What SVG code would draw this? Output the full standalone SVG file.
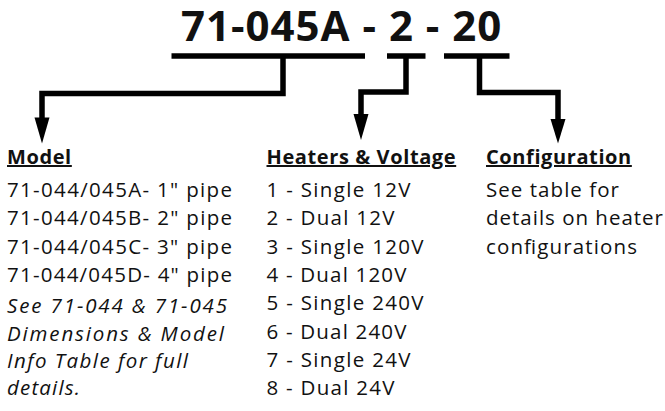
<svg xmlns="http://www.w3.org/2000/svg" width="665" height="411" viewBox="0 0 665 411">
<style>
text{font-family:"Open Sans","Noto Sans","DejaVu Sans",sans-serif;fill:#111}
.title{font-size:42px;font-weight:700;letter-spacing:1px}
.head{font-size:20px;font-weight:700;text-decoration:underline;letter-spacing:0.6px}
.body{font-size:20.5px}
.it{font-size:20.5px;font-style:italic}
.ln{fill:none;stroke:#000;stroke-width:5.5;stroke-linejoin:miter;stroke-linecap:butt}
.ah{fill:#000}
</style>
<rect width="665" height="411" fill="#fff"/>
<g id="title"><text class="title" x="181" y="41">71-045A - 2 - 20</text></g>
<g id="connectors">
<line class="ln" x1="171.5" y1="56" x2="365" y2="56"/>
<line class="ln" x1="387" y1="56" x2="425.5" y2="56"/>
<line class="ln" x1="444" y1="56" x2="509.5" y2="56"/>
<polyline class="ln" points="283,56 283,93.5 42,93.5 42,119"/>
<polygon class="ah" points="34.5,117.5 49.5,117.5 42,143.5"/>
<polyline class="ln" points="406,56 406,92 361,92 361,115"/>
<polygon class="ah" points="353.5,114 368.5,114 361,140"/>
<polyline class="ln" points="479.5,56 479.5,92.5 558,92.5 558,120"/>
<polygon class="ah" points="550.5,119 565.5,119 558,143.5"/>
</g>
<g id="model">
<text class="head" x="7" y="164">Model</text>
<text class="body" x="7" y="197" textLength="225" lengthAdjust="spacing">71-044/045A- 1" pipe</text>
<text class="body" x="7" y="225.3" textLength="225" lengthAdjust="spacing">71-044/045B- 2" pipe</text>
<text class="body" x="7" y="253.6" textLength="225" lengthAdjust="spacing">71-044/045C- 3" pipe</text>
<text class="body" x="7" y="281.9" textLength="225" lengthAdjust="spacing">71-044/045D- 4" pipe</text>
<text class="it" x="7" y="313.3" textLength="220" lengthAdjust="spacing">See 71-044 &amp; 71-045</text>
<text class="it" x="7" y="340.5" textLength="217" lengthAdjust="spacing">Dimensions &amp; Model</text>
<text class="it" x="7" y="367.7" textLength="181" lengthAdjust="spacing">Info Table for full</text>
<text class="it" x="7" y="395" textLength="73" lengthAdjust="spacing">details.</text>
</g>
<g id="heaters">
<text class="head" x="266.5" y="164">Heaters &amp; Voltage</text>
<text class="body" x="266.5" y="197" textLength="144" lengthAdjust="spacing">1 - Single 12V</text>
<text class="body" x="266.5" y="225.3" textLength="128" lengthAdjust="spacing">2 - Dual 12V</text>
<text class="body" x="266.5" y="253.6" textLength="157" lengthAdjust="spacing">3 - Single 120V</text>
<text class="body" x="266.5" y="281.9" textLength="140" lengthAdjust="spacing">4 - Dual 120V</text>
<text class="body" x="266.5" y="310.2" textLength="157" lengthAdjust="spacing">5 - Single 240V</text>
<text class="body" x="266.5" y="338.5" textLength="140" lengthAdjust="spacing">6 - Dual 240V</text>
<text class="body" x="266.5" y="366.8" textLength="144" lengthAdjust="spacing">7 - Single 24V</text>
<text class="body" x="266.5" y="395" textLength="128" lengthAdjust="spacing">8 - Dual 24V</text>
</g>
<g id="configuration">
<text class="head" x="486" y="164">Configuration</text>
<text class="body" x="486" y="197" textLength="133" lengthAdjust="spacing">See table for</text>
<text class="body" x="486" y="225.3" textLength="177" lengthAdjust="spacing">details on heater</text>
<text class="body" x="486" y="253.6" textLength="151" lengthAdjust="spacing">configurations</text>
</g>
</svg>
